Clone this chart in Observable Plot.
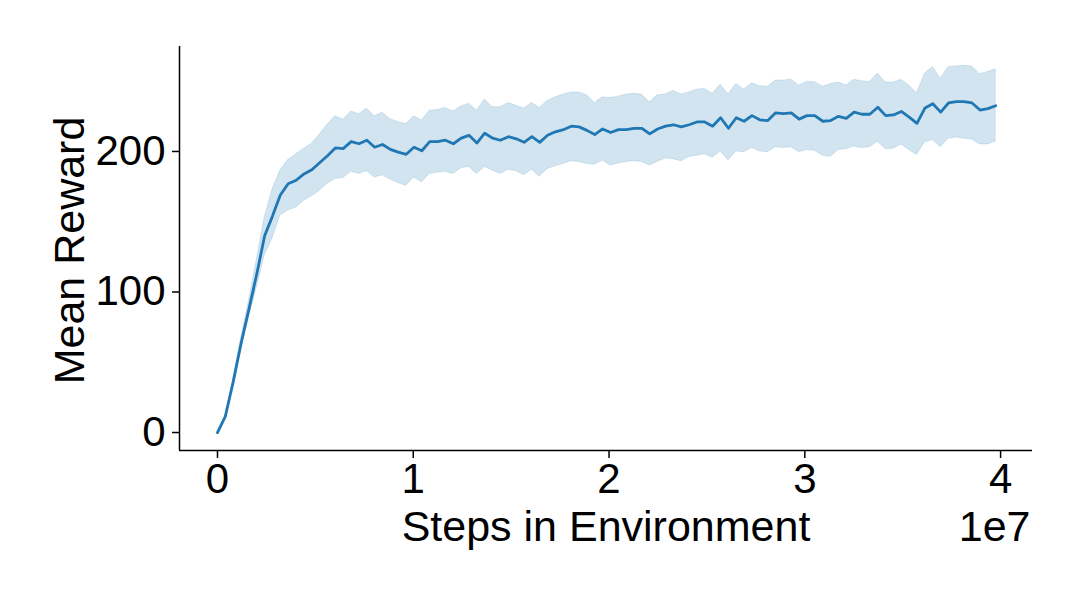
<!DOCTYPE html>
<html><head><meta charset="utf-8">
<script src="https://cdn.jsdelivr.net/npm/d3@7"></script>
<script src="https://cdn.jsdelivr.net/npm/@observablehq/plot@0.6"></script>
<style>html,body{margin:0;padding:0;background:#fff}</style>
</head><body><div id="chart"></div>
<script>
// Environment steps, in millions
const stepsM = [0,0.40,0.80,1.20,1.61,2.01,2.41,2.81,3.21,3.61,4.02,4.42,4.82,5.22,5.62,6.02,6.42,6.83,7.23,7.63,
8.03,8.43,8.83,9.23,9.64,10.04,10.44,10.84,11.24,11.64,12.05,12.45,12.85,13.25,13.65,14.05,14.45,14.86,15.26,15.66,
16.06,16.46,16.86,17.26,17.67,18.07,18.47,18.87,19.27,19.67,20.08,20.48,20.88,21.28,21.68,22.08,22.48,22.89,23.29,23.69,
24.09,24.49,24.89,25.29,25.70,26.10,26.50,26.90,27.30,27.70,28.11,28.51,28.91,29.31,29.71,30.11,30.51,30.92,31.32,31.72,
32.12,32.52,32.92,33.32,33.73,34.13,34.53,34.93,35.33,35.73,36.14,36.54,36.94,37.34,37.74,38.14,38.54,38.95,39.35,39.75];
const meanReward = [0,11.4,35.8,63,88,113,140,154,169,177,179.5,184,187,192,197,202.5,202,207,205.5,208,
203,205,201.5,199.5,198,203,200.5,207,207,208,205.5,209.5,211.5,206,213,209.5,208,210.5,209,206.5,
210.5,206.5,211.5,214,215.5,218,217.5,215,212,216,213.5,215.5,215.5,216.5,216.5,212.5,216,218,219,217.5,
219,221,221,218,224,216.5,224,221.5,225.5,222.5,222,227.5,227,227.5,223,225.5,225.5,221.5,222,225,
223.5,228,226.5,226.5,231.5,225.5,226,228.5,224.5,220,231,234,228,234.5,235.5,235.5,234.5,229.5,230.5,232.5];
const upperReward = [0.5,12.5,38,67,94,123,153,173,186.5,194,198,202,205.5,212,219,225,222.5,228.5,226.5,230.5,
225,227.5,223,221,219.5,225,222,229,229.5,231,228.5,232,234,229,237,231.5,231.5,234.5,232.5,230.5,
234.5,231,236,238.5,240.5,242,242,240,234.5,238.5,238,239,240.5,241,240.5,235,240,240.5,243,240.5,
242,244,244.5,241,247.5,240.5,248,244,248.5,246.5,246,250.5,250.5,251,247,249.5,249.5,246,248,249,
247,251,250,249.5,255.5,249,249,251,247,241.5,255.5,260,252,260,260.5,261,260.5,255,256.5,258.5];
const lowerReward = [-0.5,10.5,33.5,59,82,103,126,138,154.5,158,160,165,168,172,177,180.5,181,185.5,184,186,
181.5,183,180,177.5,175.5,181.5,178,184,185,185.5,184,188,189,184,189,186.5,184,187,186,183,
187,182,187.5,189.5,191,193,192.5,191,190.5,193.5,190,191.5,192.5,193,192.5,190,192.5,195,194.5,193,
196,197,198,195.5,200,193.5,200,199.5,202.5,200,199.5,203,202.5,203,199.5,201,200.5,197,196,201,
201.5,203.5,202.5,203,207,201.5,202,205,201,197.5,206.5,208,203,209,210,209,208.5,205,205,207];
const xTicks = [0, 1e7, 2e7, 3e7, 4e7];
const yTicks = [0, 100, 200];
const xLabel = "Steps in Environment";
const yLabel = "Mean Reward";
const offsetLabel = "1e7";

const data = stepsM.map((s, i) => ({step: s * 1e6, mean: meanReward[i], hi: upperReward[i], lo: lowerReward[i]}));
const font = '"Liberation Sans", Arial, Helvetica, sans-serif';
const xDomain = [-1.94e6, 4.163e7];
const yDomain = [-12.8, 274.7];
const blue = "#1f77b4";

const chart = Plot.plot({
  width: 1080, height: 600,
  marginTop: 46, marginBottom: 150, marginLeft: 179, marginRight: 48,
  style: {fontFamily: font, fontSize: "42px", color: "#000", background: "#fff"},
  x: {domain: xDomain},
  y: {domain: yDomain},
  marks: [
    Plot.areaY(data, {x: "step", y1: "lo", y2: "hi", fill: blue, fillOpacity: 0.2, stroke: blue, strokeOpacity: 0.15, strokeWidth: 1}),
    Plot.lineY(data, {x: "step", y: "mean", stroke: blue, strokeWidth: 2.8}),
    Plot.axisX({ticks: xTicks, tickFormat: d => String(d / 1e7), tickSize: 8, tickPadding: 5, fontSize: 42, label: null, strokeWidth: 1.5}),
    Plot.axisY({ticks: yTicks, tickSize: 7, tickPadding: 7, fontSize: 42, label: null, strokeWidth: 1.5}),
    Plot.ruleX([xDomain[0]], {stroke: "#000", strokeWidth: 1.5}),
    Plot.ruleY([yDomain[0]], {stroke: "#000", strokeWidth: 1.5}),
    Plot.text([xLabel], {text: d => d, frameAnchor: "bottom", textAnchor: "middle", dy: 90, lineAnchor: "bottom", fontSize: 43}),
    Plot.text([offsetLabel], {text: d => d, frameAnchor: "bottom-right", textAnchor: "end", dx: -2, dy: 90, lineAnchor: "bottom", fontSize: 43}),
    Plot.text([yLabel], {text: d => d, frameAnchor: "left", textAnchor: "middle", rotate: -90, dx: -96, dy: 2, lineAnchor: "bottom", fontSize: 43})
  ]
});
document.getElementById("chart").appendChild(chart);
</script>
</body></html>
